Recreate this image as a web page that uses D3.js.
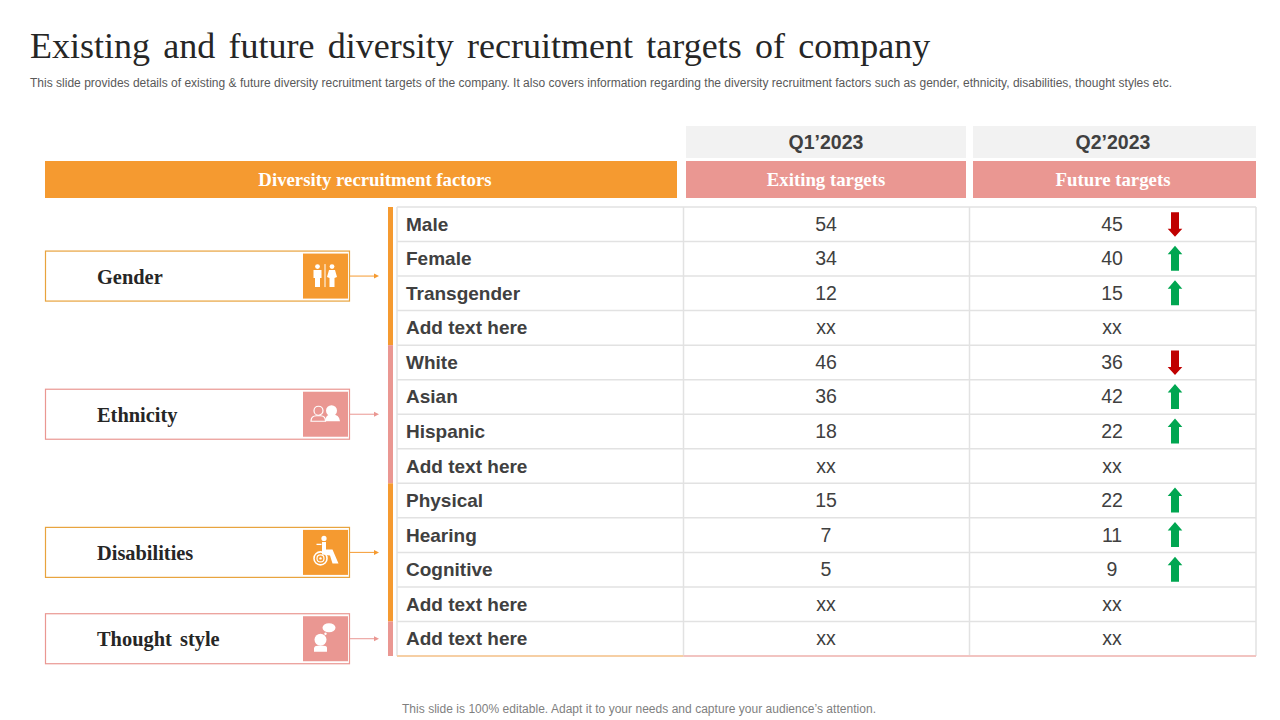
<!DOCTYPE html>
<html>
<head>
<meta charset="utf-8">
<script src="https://cdn.jsdelivr.net/npm/d3@7"></script>
<style>
  html, body { margin: 0; padding: 0; background: #fff; }
  svg { display: block; }
  text { white-space: pre; }
  .serif { font-family: "Liberation Serif", serif; }
  .sans { font-family: "Liberation Sans", sans-serif; }
</style>
</head>
<body>
<svg id="chart" width="1280" height="720"></svg>
<script>
// data
const rowLabels = ['Male', 'Female', 'Transgender', 'Add text here', 'White', 'Asian', 'Hispanic', 'Add text here',
  'Physical', 'Hearing', 'Cognitive', 'Add text here', 'Add text here'];
const q1Targets = ['54', '34', '12', 'xx', '46', '36', '18', 'xx', '15', '7', '5', 'xx', 'xx'];
const q2Targets = ['45', '40', '15', 'xx', '36', '42', '22', 'xx', '22', '11', '9', 'xx', 'xx'];
const factorNames = ['Gender', 'Ethnicity', 'Disabilities', 'Thought  style'];
const factorFirstRow = [0, 4, 8, 12];
const factorLastRow = [3, 7, 11, 12];
const quarters = ['Q1’2023', 'Q2’2023'];
const targetHeads = ['Exiting targets', 'Future targets'];

const ORANGE = '#F59A30';
const PINK = '#EA9792';
const GREEN = '#00A651';
const RED = '#C00000';
const TEXT = '#404040';
const GRID = '#E2E2E2';

const svg = d3.select('#chart');

// Scales
const y = d3.scaleBand().domain(d3.range(rowLabels.length)).range([207, 656]);
const col = d3.scaleOrdinal().domain(['label', 'q1', 'q2', 'end']).range([397, 683.5, 969.5, 1256]);
const head = d3.scaleOrdinal().domain([0, 1]).range([686, 973]);
const factorColor = i => (i % 2 ? PINK : ORANGE);
const factorMid = i => (y(factorFirstRow[i]) + y(factorLastRow[i]) + y.bandwidth()) / 2;

// Title
svg.append('text').attr('class', 'serif').attr('x', 30).attr('y', 58)
  .attr('font-size', 36).attr('fill', '#262626').attr('word-spacing', 4.3)
  .text('Existing and future diversity recruitment targets of company');
svg.append('text').attr('class', 'sans').attr('x', 30).attr('y', 87)
  .attr('font-size', 12).attr('fill', '#595959').attr('textLength', 1142).attr('lengthAdjust', 'spacing')
  .text('This slide provides details of existing & future diversity recruitment targets of the company. It also covers information regarding the diversity recruitment factors such as gender, ethnicity, disabilities, thought styles etc.');

// Header bands
svg.append('rect').attr('x', 45).attr('y', 161).attr('width', 632).attr('height', 37).attr('fill', ORANGE);
svg.append('text').attr('class', 'serif').attr('x', 375).attr('y', 186).attr('text-anchor', 'middle')
  .attr('font-size', 18.8).attr('font-weight', 'bold').attr('fill', '#fff').text('Diversity recruitment factors');

const heads = svg.selectAll('g.head').data(quarters).join('g').attr('class', 'head');
heads.append('rect').attr('x', (d, i) => head(i)).attr('y', 126)
  .attr('width', (d, i) => (i ? 283 : 280)).attr('height', 32).attr('fill', '#F2F2F2');
heads.append('text').attr('class', 'sans').attr('x', (d, i) => head(i) + 140).attr('y', 149)
  .attr('text-anchor', 'middle').attr('font-size', 19.5).attr('font-weight', 'bold').attr('fill', TEXT).text(d => d);
heads.append('rect').attr('x', (d, i) => head(i)).attr('y', 161)
  .attr('width', (d, i) => (i ? 283 : 280)).attr('height', 37).attr('fill', PINK);
heads.append('text').attr('class', 'serif')
  .attr('x', (d, i) => head(i) + 140).attr('y', 186)
  .attr('text-anchor', 'middle').attr('font-size', 18.8).attr('font-weight', 'bold').attr('fill', '#fff')
  .text((d, i) => targetHeads[i]);

// Table grid
svg.selectAll('line.row').data(d3.range(rowLabels.length + 1)).join('line').attr('class', 'row')
  .attr('x1', col('label')).attr('x2', col('end'))
  .attr('y1', i => (i < rowLabels.length ? y(i) : 656)).attr('y2', i => (i < rowLabels.length ? y(i) : 656))
  .attr('stroke', GRID).attr('stroke-width', 1.5);
svg.selectAll('line.col').data(['label', 'q1', 'q2', 'end']).join('line').attr('class', 'col')
  .attr('x1', col).attr('x2', col).attr('y1', 207).attr('y2', 656)
  .attr('stroke', GRID).attr('stroke-width', 1.5);
svg.append('line').attr('x1', col('label')).attr('x2', col('q1')).attr('y1', 656).attr('y2', 656)
  .attr('stroke', '#F6CFA4').attr('stroke-width', 2);
svg.append('line').attr('x1', col('q1')).attr('x2', col('end')).attr('y1', 656).attr('y2', 656)
  .attr('stroke', '#F2C4C1').attr('stroke-width', 2);

// Rows
const rowData = rowLabels.map((label, i) => ({ label, q1: q1Targets[i], q2: q2Targets[i], i }));
const rows = svg.selectAll('g.tr').data(rowData).join('g').attr('class', 'tr')
  .attr('transform', d => `translate(0,${y(d.i) + y.bandwidth() / 2})`);
rows.append('text').attr('class', 'sans').attr('x', 406).attr('y', 6.5)
  .attr('font-size', 19).attr('font-weight', 'bold').attr('fill', TEXT).text(d => d.label);
rows.append('text').attr('class', 'sans').attr('x', 826).attr('y', 6.5).attr('text-anchor', 'middle')
  .attr('font-size', 19.5).attr('fill', TEXT).text(d => d.q1);
rows.append('text').attr('class', 'sans').attr('x', 1112).attr('y', 6.5).attr('text-anchor', 'middle')
  .attr('font-size', 19.5).attr('fill', TEXT).text(d => d.q2);

// Arrows come from the change between the two quarters
rows.filter(d => d.q1 !== 'xx').append('path')
  .attr('transform', 'translate(1175,0)')
  .attr('d', d => (+d.q2 > +d.q1
    ? 'M0,-13 L7.3,-4.5 L4,-4.5 L4,12 L-4,12 L-4,-4.5 L-7.3,-4.5 Z'
    : 'M-4,-12 L4,-12 L4,4.5 L7.3,4.5 L0,12.5 L-7.3,4.5 L-4,4.5 Z'))
  .attr('fill', d => (+d.q2 > +d.q1 ? GREEN : RED));

// Side bars
svg.selectAll('rect.side').data(factorNames).join('rect').attr('class', 'side')
  .attr('x', 388).attr('width', 5)
  .attr('y', (d, i) => y(factorFirstRow[i]))
  .attr('height', (d, i) => y(factorLastRow[i]) + y.bandwidth() - y(factorFirstRow[i]))
  .attr('fill', (d, i) => factorColor(i));

// Factor boxes
const factors = svg.selectAll('g.factor').data(factorNames).join('g').attr('class', 'factor')
  .attr('transform', (d, i) => `translate(0,${factorMid(i)})`);
factors.append('rect').attr('x', 45.5).attr('y', -25).attr('width', 304).attr('height', 50)
  .attr('fill', '#fff').attr('stroke', (d, i) => (i % 2 ? PINK : '#E8A33D')).attr('stroke-width', 1.2);
factors.append('text').attr('class', 'serif').attr('x', 97).attr('y', 7.5)
  .attr('font-size', 20.4).attr('font-weight', 'bold').attr('fill', '#262626').attr('word-spacing', -1).text(d => d);
factors.append('rect').attr('x', 303).attr('y', -22.5).attr('width', 45).attr('height', 45)
  .attr('fill', (d, i) => factorColor(i));
factors.append('line').attr('x1', 350).attr('x2', 375).attr('y1', 0).attr('y2', 0)
  .attr('stroke', (d, i) => factorColor(i)).attr('stroke-width', 1);
factors.append('path').attr('d', 'M374,-2.5 L379,0 L374,2.5 Z').attr('fill', (d, i) => factorColor(i));

// Icons, drawn around the middle of each square
const icons = factors.append('g').attr('transform', 'translate(325.5,0)').attr('fill', '#fff');

const gender = icons.filter((d, i) => i === 0);
gender.append('circle').attr('cx', -8).attr('cy', -9.5).attr('r', 2.4);
gender.append('path').attr('d', 'M-12,-6 L-4,-6 L-4,2 L-5.5,2 L-5.5,11 L-10.5,11 L-10.5,2 L-12,2 Z');
gender.append('rect').attr('x', -1).attr('y', -12).attr('width', 1).attr('height', 23);
gender.append('circle').attr('cx', 6.5).attr('cy', -9.5).attr('r', 2.4);
gender.append('path').attr('d', 'M3.5,-6 L9.5,-6 L11.5,1 L9,2 L9,11 L4,11 L4,2 L1.5,1 Z');

const ethnicity = icons.filter((d, i) => i === 1);
ethnicity.append('circle').attr('cx', -7).attr('cy', -3.5).attr('r', 4.5)
  .attr('fill', 'none').attr('stroke', '#fff').attr('stroke-width', 1.2);
ethnicity.append('path').attr('d', 'M-14.5,7 Q-14.5,1.5 -9,1.5 L-5,1.5 Q0,1.5 0,7 Z')
  .attr('fill', 'none').attr('stroke', '#fff').attr('stroke-width', 1.2);
ethnicity.append('circle').attr('cx', 6).attr('cy', -3.5).attr('r', 5.5);
ethnicity.append('path').attr('d', 'M-0.5,7 Q0,0 6,0 Q14,0 14.5,7 Z');

const disability = icons.filter((d, i) => i === 2);
disability.append('circle').attr('cx', -1.5).attr('cy', -14).attr('r', 2.6);
disability.append('path').attr('d', 'M-3.5,-10.5 L0.5,-10.5 L0.5,-3 L7,-3 L13,11 L7,11 L4.5,3 L-3.5,2 Z');
disability.append('path').attr('d', 'M-9,-8 L-4,-8').attr('stroke', '#fff').attr('stroke-width', 1.3);
disability.append('circle').attr('cx', -5).attr('cy', 6).attr('r', 6.5)
  .attr('fill', 'none').attr('stroke', '#fff').attr('stroke-width', 1.6);
disability.append('circle').attr('cx', -5).attr('cy', 6).attr('r', 3.5)
  .attr('fill', 'none').attr('stroke', '#fff').attr('stroke-width', 1.2);
disability.append('circle').attr('cx', -5).attr('cy', 6).attr('r', 1.2);

const thought = icons.filter((d, i) => i === 3);
thought.append('ellipse').attr('cx', 3.5).attr('cy', -11).attr('rx', 6.5).attr('ry', 4.5);
thought.append('circle').attr('cx', 0).attr('cy', -5).attr('r', 1.2);
thought.append('circle').attr('cx', -5).attr('cy', 1).attr('r', 6);
thought.append('path').attr('d', 'M-11.5,13 L-11.5,9 Q-11,7 -8,7 L-2,7 Q1.5,7 1.5,9 L1.5,13 Z');

// Footer
svg.append('text').attr('class', 'sans').attr('x', 402).attr('y', 713)
  .attr('font-size', 12).attr('fill', '#7F7F7F').attr('textLength', 474).attr('lengthAdjust', 'spacing')
  .text('This slide is 100% editable. Adapt it to your needs and capture your audience’s attention.');
</script>
</body>
</html>
